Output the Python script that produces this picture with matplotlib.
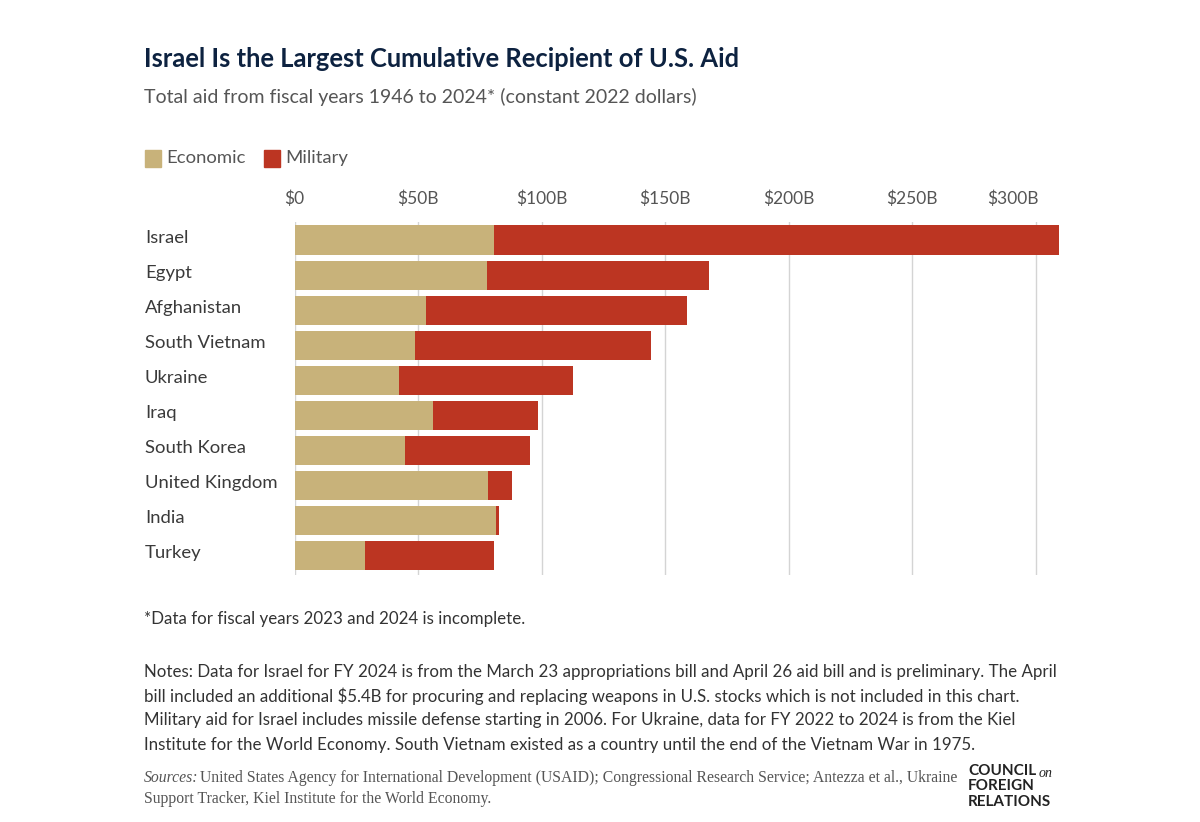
import matplotlib
matplotlib.use('Agg')
from matplotlib import pyplot as plt
from matplotlib.patches import Rectangle

countries = ['Israel', 'Egypt', 'Afghanistan', 'South Vietnam', 'Ukraine',
             'Iraq', 'South Korea', 'United Kingdom', 'India', 'Turkey']
economic = [80.6, 77.8, 53.1, 48.8, 42.3, 56.1, 44.7, 78.2, 81.7, 28.7]
totals = [309.5, 167.8, 158.9, 144.4, 112.9, 98.4, 95.4, 87.9, 82.8, 80.9]
military = [t - e for t, e in zip(totals, economic)]
ticks = [0, 50, 100, 150, 200, 250, 300]
tick_labels = ['$0', '$50B', '$100B', '$150B', '$200B', '$250B', '$300B']

ECON = '#c8b27a'
MIL = '#bc3522'
NAVY = '#0d2240'
GREY = '#555555'

plt.rcParams['font.family'] = ['Lato', 'DejaVu Sans']

fig = plt.figure(figsize=(12, 8.22), dpi=100)
W, H = 1200, 822

def fx(px):
    return px / W

def fy(py):
    return 1 - py / H

ax = fig.add_axes([fx(294.6), fy(575), 309.5 * 2.47 / W, 353 / H])
y = list(range(len(countries)))
ax.barh(y, economic, height=0.83, color=ECON, zorder=3)
ax.barh(y, military, left=economic, height=0.83, color=MIL, zorder=3)

ax.set_xlim(0, 309.5)
ax.set_ylim(9 + 0.557, -0.514)
ax.set_xticks(ticks)
ax.set_xticklabels([])
ax.set_yticks([])
ax.grid(axis='x', color='#d4d4d4', linewidth=1, zorder=0)
ax.tick_params(length=0)
for s in ax.spines.values():
    s.set_visible(False)

# tick labels above the plot (last one pulled in a bit like the original)
for t, lab in zip(ticks, tick_labels):
    xpix = 294.6 + t * 2.47
    if t == 300:
        xpix = 1013
    fig.text(fx(xpix), fy(199), lab, ha='center', va='center', fontsize=12.5, color=GREY)

# country labels
for i, c in enumerate(countries):
    fig.text(fx(145), fy(238 + i * 35.05), c, ha='left', va='center', fontsize=13.3, color='#3a3a3a')

# title / subtitle
fig.text(fx(144), fy(59), 'Israel Is the Largest Cumulative Recipient of U.S. Aid',
         fontsize=18.4, fontweight='bold', color=NAVY, va='center', ha='left')
fig.text(fx(144), fy(97), 'Total aid from fiscal years 1946 to 2024* (constant 2022 dollars)',
         fontsize=14, color=GREY, va='center', ha='left')

# legend
fig.patches.append(Rectangle((fx(145), fy(167)), 16 / W, 17 / H, color=ECON, transform=fig.transFigure))
fig.text(fx(166), fy(158), 'Economic', fontsize=13.3, color=GREY, va='center', ha='left')
fig.patches.append(Rectangle((fx(264), fy(167)), 16 / W, 17 / H, color=MIL, transform=fig.transFigure))
fig.text(fx(285), fy(158), 'Military', fontsize=13.3, color=GREY, va='center', ha='left')

# notes
fig.text(fx(144), fy(619), '*Data for fiscal years 2023 and 2024 is incomplete.',
         fontsize=12.2, color='#333333', va='center', ha='left')
notes = [
    'Notes: Data for Israel for FY 2024 is from the March 23 appropriations bill and April 26 aid bill and is preliminary. The April',
    'bill included an additional $5.4B for procuring and replacing weapons in U.S. stocks which is not included in this chart.',
    'Military aid for Israel includes missile defense starting in 2006. For Ukraine, data for FY 2022 to 2024 is from the Kiel',
    'Institute for the World Economy. South Vietnam existed as a country until the end of the Vietnam War in 1975.',
]
for i, line in enumerate(notes):
    fig.text(fx(144), fy(672 + i * 24.2), line, fontsize=12.2, color='#333333',
             va='center', ha='left')

# sources
fig.text(fx(144), fy(778), 'Sources:', fontsize=11.3, fontstyle='italic', color=GREY,
         family='Liberation Serif', va='center', ha='left')
fig.text(fx(200), fy(778),
         'United States Agency for International Development (USAID); Congressional Research Service; Antezza et al., Ukraine',
         fontsize=11.3, color=GREY, family='Liberation Serif', va='center', ha='left')
fig.text(fx(144), fy(799), 'Support Tracker, Kiel Institute for the World Economy.',
         fontsize=11.3, color=GREY, family='Liberation Serif', va='center', ha='left')

# CFR logo text
fig.text(fx(968), fy(771), 'COUNCIL', fontsize=11, fontweight='bold', color='#222222', va='center', ha='left')
fig.text(fx(1039), fy(773), 'on', fontsize=10, fontstyle='italic', color='#222222',
         family='Liberation Serif', va='center', ha='left')
fig.text(fx(968), fy(786), 'FOREIGN', fontsize=11, fontweight='bold', color='#222222', va='center', ha='left')
fig.text(fx(968), fy(802), 'RELATIONS', fontsize=11, fontweight='bold', color='#222222', va='center', ha='left')

fig.savefig('out.png', dpi=100)
